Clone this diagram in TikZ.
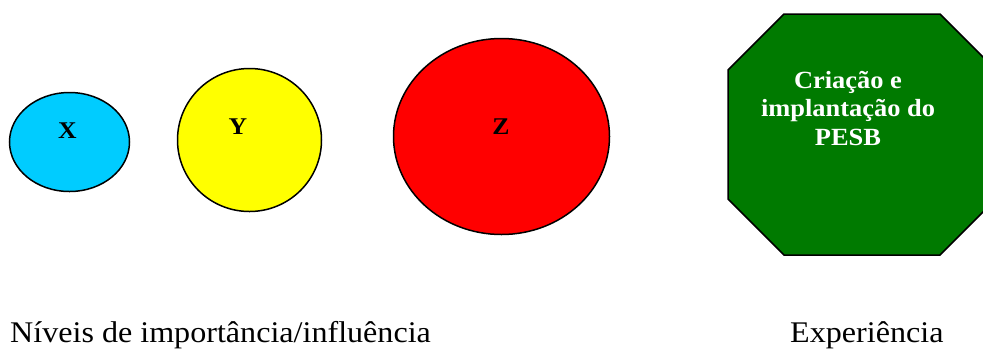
\documentclass[tikz,border=0pt]{standalone}
\usepackage{fontspec}
\setmainfont{Liberation Serif}
\newfontfamily\stretchfont[FakeStretch=1.07]{Liberation Serif}
\usetikzlibrary{shapes.geometric}
\definecolor{cyanfill}{HTML}{00CCFF}
\definecolor{yellowfill}{HTML}{FFFF00}
\definecolor{redfill}{HTML}{FF0000}
\definecolor{greenfill}{HTML}{007A00}
\tikzset{
  blob/.style={ellipse, draw=black, line width=1.5bp, inner sep=0pt},
  lbl/.style={inner sep=0pt, font=\stretchfont\bfseries\fontsize{24bp}{27bp}\selectfont},
  octtext/.style={inner sep=0pt, align=center, text=white, font=\stretchfont\bfseries\fontsize{24.7bp}{28.5bp}\selectfont},
  caption/.style={inner sep=0pt, anchor=base west, font=\stretchfont\fontsize{30bp}{34bp}\selectfont},
}
\begin{document}
\begin{tikzpicture}[x=1bp, y=-1bp]
\useasboundingbox (0,0) rectangle (983,349);
\node[blob, fill=cyanfill, minimum width=120bp, minimum height=99bp] (ex) at (69.5,142) {};
\node[blob, fill=yellowfill, minimum width=144bp, minimum height=143bp] (ey) at (249.5,140) {};
\node[blob, fill=redfill, minimum width=216bp, minimum height=196bp] (ez) at (501.5,136.5) {};
\node[lbl] (tx) at (67.5,130.5) {X};
\node[lbl] (ty) at (238,126.5) {Y};
\node[lbl] (tz) at (501,127) {Z};
\begin{scope}
\clip (0,0) rectangle (983,349);
\draw[fill=greenfill, draw=black, line width=1.5bp]
  (784,14) -- (940,14) -- (996,70) -- (996,199) -- (940,255) -- (784,255) -- (728,199) -- (728,70) -- cycle;
\end{scope}
\node[octtext] (oct) at (848,108.5) {Criação e\\implantação do\\PESB};
\node[caption] (niv) at (10,342) {Níveis de importância/influência};
\node[caption] (exp) at (790,342) {Experiência};
\end{tikzpicture}
\end{document}
